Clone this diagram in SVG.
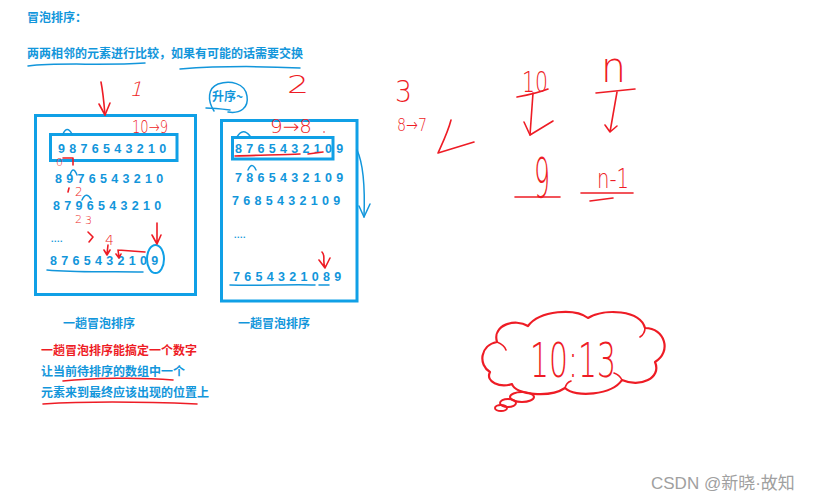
<svg xmlns="http://www.w3.org/2000/svg" width="822" height="502" viewBox="0 0 822 502">
<style>
.bt{font-family:"Noto Sans CJK SC","Liberation Sans",sans-serif;font-weight:bold;font-size:12px;fill:#1296db}
.rt{font-family:"Noto Sans CJK SC","Liberation Sans",sans-serif;font-weight:bold;font-size:12px;fill:#ee1c25}
.dg{font-family:"Liberation Sans",Arial,sans-serif;font-weight:bold;font-size:12.5px;fill:#1296db;letter-spacing:4.3px}
.hw{font-family:"DejaVu Sans","Liberation Sans",sans-serif;font-weight:200;fill:#ee1c25}
.box{fill:none;stroke:#10a0e6;stroke-width:3}
.bl{fill:none;stroke:#1296db;stroke-width:1.5;stroke-linecap:round;stroke-linejoin:round}
.rl{fill:none;stroke:#ee1c25;stroke-width:1.6;stroke-linecap:round;stroke-linejoin:round}
.wm{font-family:"Liberation Sans","Noto Sans CJK SC",sans-serif;font-size:17px;fill:#a0a0a0}
</style>
<rect width="822" height="502" fill="#ffffff"/>

<text class="bt" x="27" y="22">冒泡排序：</text>
<text class="bt" x="27" y="58">两两相邻的元素进行比较，如果有可能的话需要交换</text>
<path class="bl" d="M28,66 C60,62 100,66 145,63"/>
<path class="bl" d="M180,69 C220,66 260,66 300,68"/>

<!-- left box -->
<g id="left-box">
<rect class="box" x="35.5" y="115.5" width="160" height="179"/>
<rect class="box" x="50.5" y="134.5" width="126.5" height="26"/>
<text class="dg" x="58" y="153">9876543210</text>
<text class="dg" x="55" y="183">8976543210</text>
<text class="dg" x="53" y="210">8796543210</text>
<text class="dg" x="51" y="242" style="font-size:9px;letter-spacing:0.5px">....</text>
<text class="dg" x="50" y="265">8765432109</text>
<path class="bl" d="M47,270 C80,273 110,271 143,272"/>
<ellipse cx="155.5" cy="259" rx="8.5" ry="14" fill="none" stroke="#10a0e6" stroke-width="2"/>
<path class="bl" d="M63,134 Q67,125 72,134"/>
<path class="bl" d="M70,175 Q73,165 77,175"/>
<path class="bl" d="M82,200 Q86,191 91,199"/>
<text class="bt" x="63" y="328">一趟冒泡排序</text>
</g>

<!-- right box -->
<g id="right-box">
<rect class="box" x="221.5" y="120.5" width="135.5" height="180.5"/>
<rect class="box" x="232.5" y="137.5" width="100.5" height="21.5"/>
<text class="dg" x="235" y="153">8765432109</text>
<text class="dg" x="235" y="182">7865432109</text>
<text class="dg" x="232" y="205">7685432109</text>
<text class="dg" x="234" y="238" style="font-size:9px;letter-spacing:0.5px">....</text>
<text class="dg" x="233" y="281">7654321089</text>
<path class="bl" d="M230,285 C260,286 290,284 315,285"/>
<path class="bl" d="M319,285 L329,285"/>
<path class="bl" d="M237,137 Q243,127 250,136"/>
<path class="bl" d="M248,170 Q252,161 256,170"/>
<path class="bl" d="M357,150 C364,165 365,190 364,217"/>
<path class="bl" d="M359,206 L364,217 L370,204"/>
<text class="bt" x="238" y="328">一趟冒泡排序</text>
</g>

<!-- ascending note -->
<g id="asc-note">
<path class="bl" d="M214,111 C207,100 208,88 218,84 C230,80 245,83 247,96 C249,108 240,114 228,112"/>
<path class="bl" d="M206,108 C213,108 222,109 230,110"/>
<text class="bt" x="212" y="101">升序~</text>
</g>

<!-- red annotations -->
<g id="annotations">
<path class="rl" d="M101,82 C103,92 104,103 105,115"/>
<path class="rl" d="M99,104 L105,115 L110,103"/>
<text class="hw" x="131" y="96" font-size="20" transform="skewX(-15) translate(24,0)">1</text>
<text class="hw" x="132" y="133" font-size="17" textLength="36" lengthAdjust="spacingAndGlyphs">10→9</text>
<text class="hw" x="56" y="166" font-size="11">0</text>
<path class="rl" d="M63,158 L73,158 L73,165"/>
<path class="rl" d="M69,188 L68,192"/>
<text class="hw" x="75" y="196" font-size="12">2</text>
<text class="hw" x="75" y="223" font-size="11">2</text>
<text class="hw" x="85" y="224" font-size="11">3</text>
<path class="rl" d="M88,232 L93,237 L89,242"/>
<text class="hw" x="105" y="245" font-size="14">4</text>
<path class="rl" d="M108,245 L107,254 M104,250 L107,255 L110,250"/>
<path class="rl" d="M118,250 L145,252 M118,250 L119,257 M116,254 L119,258 L121,254"/>
<path class="rl" d="M157,223 L157,243 M152,235 L157,244 L161,235"/>

<text class="hw" x="287" y="93" font-size="25" textLength="22" lengthAdjust="spacingAndGlyphs">2</text>
<text class="hw" x="270" y="133" font-size="19" textLength="42" lengthAdjust="spacingAndGlyphs">9→8</text>
<path class="rl" d="M235,156 C260,155 285,155 300,154 M308,154 L323,152"/>
<circle cx="324" cy="132" r="0.8" fill="#ee1c25"/>
<path class="rl" d="M322,252 C326,256 322,260 325,268 M319,260 L325,268 L330,258"/>

<text class="hw" x="395" y="102" font-size="30" textLength="17" lengthAdjust="spacingAndGlyphs">3</text>
<text class="hw" x="397" y="131" font-size="18" textLength="30" lengthAdjust="spacingAndGlyphs">8→7</text>
<path class="rl" d="M451,120 C448,132 442,144 438,153 L474,142"/>

<text class="hw" x="522" y="92" font-size="28" textLength="26" lengthAdjust="spacingAndGlyphs">10</text>
<path class="rl" d="M517,97 C528,95 538,93 548,89"/>
<path class="rl" d="M533,93 C532,108 531,122 530,135"/>
<path class="rl" d="M524,122 L530,135 L553,121"/>
<text class="hw" x="534" y="197" font-size="56" textLength="16" lengthAdjust="spacingAndGlyphs">9</text>
<path class="rl" d="M515,197 L560,197"/>

<text class="hw" x="601" y="82" font-size="42" textLength="25" lengthAdjust="spacingAndGlyphs">n</text>
<path class="rl" d="M596,93 L635,89"/>
<path class="rl" d="M617,92 L610,132 M605,125 L610,132 L617,126"/>
<text class="hw" x="597" y="188" font-size="26" textLength="32" lengthAdjust="spacingAndGlyphs">n-1</text>
<path class="rl" d="M581,193 L633,193"/>
<path class="rl" d="M590,201 L613,198"/>
</g>

<text class="rt" x="41" y="355">一趟冒泡排序能搞定一个数字</text>
<text class="bt" x="41" y="376">让当前待排序的数组中一个</text>
<path class="rl" d="M63,381 C90,378 140,377 173,380"/>
<text class="bt" x="41" y="397">元素来到最终应该出现的位置上</text>
<path class="rl" d="M43,404 C90,401 150,402 197,404"/>

<!-- cloud -->
<g id="cloud">
<path d="M490,372 C478,365 480,345 497,342 C492,325 515,318 528,326 C540,310 575,308 588,318 C605,308 640,310 645,328 C665,328 672,352 655,362 C662,378 640,388 622,380 C612,395 575,398 565,388 C550,398 515,395 512,384 C500,388 485,382 490,372 Z" fill="none" stroke="#ee1c25" stroke-width="2.2" stroke-linejoin="round"/>
<path class="rl" d="M497,342 C502,344 505,347 506,350 M645,328 C645,332 643,335 640,337 M622,380 C620,376 617,374 614,373 M565,388 C566,384 568,382 571,381"/>
<ellipse cx="522" cy="397" rx="12" ry="5" fill="none" stroke="#ee1c25" stroke-width="2"/>
<ellipse cx="508" cy="403" rx="8" ry="4" fill="none" stroke="#ee1c25" stroke-width="2"/>
<ellipse cx="501" cy="408" rx="6" ry="3" fill="none" stroke="#ee1c25" stroke-width="2"/>
<text class="hw" x="530" y="377" font-size="48" textLength="86" lengthAdjust="spacingAndGlyphs">10:13</text>
</g>

<text class="wm" x="651" y="489">CSDN @新晓·故知</text>
</svg>
